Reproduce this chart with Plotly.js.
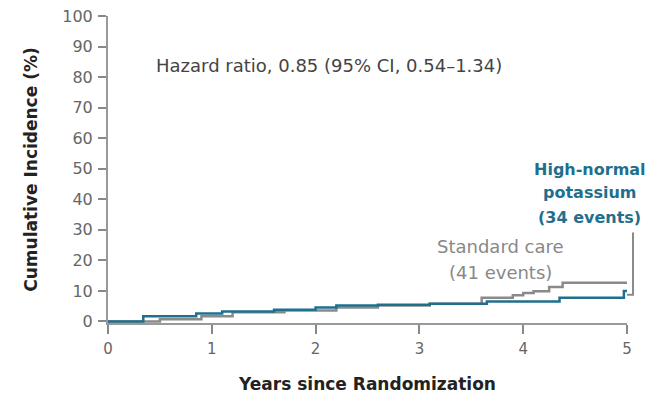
<!DOCTYPE html>
<html>
<head>
<meta charset="utf-8">
<script src="https://cdn.plot.ly/plotly-3.0.1.min.js"></script>
<style>html,body{margin:0;padding:0;background:#fff;}#chart{width:646px;height:397px;}</style>
</head>
<body>
<div id="chart"></div>
<script>
// Standard care (gray) step curve
const stdYears = [0, 0.5, 0.9, 1.2, 1.7, 2.2, 2.6, 3.1, 3.6, 3.9, 4.0, 4.1, 4.25, 4.38, 5.0];
const stdPct   = [0, 0.7, 1.7, 3.0, 3.6, 4.6, 5.2, 5.8, 7.8, 8.6, 9.3, 9.9, 11.3, 12.7, 12.7];
// High-normal potassium (blue) step curve
const hiYears = [0, 0.34, 0.85, 1.1, 1.6, 2.0, 2.2, 2.6, 3.1, 3.65, 4.35, 4.97, 5.0];
const hiPct   = [0, 1.7, 2.6, 3.3, 3.8, 4.6, 5.2, 5.5, 5.8, 6.5, 7.8, 10.0, 10.0];
const xTicks = [0, 1, 2, 3, 4, 5];
const yTicks = [0, 10, 20, 30, 40, 50, 60, 70, 80, 90, 100];
const hrText = 'Hazard ratio, 0.85 (95% CI, 0.54\u20131.34)';
const stdLabel = ['Standard care', '(41 events)'];
const hiLabel = ['High-normal', 'potassium', '(34 events)'];

const gray = '#8a8a8a';
const blue = '#1f6f8e';
const font = 'DejaVu Sans, sans-serif';

const traces = [
  {x: stdYears, y: stdPct, mode: 'lines', line: {shape: 'hv', color: gray, width: 2.5}, name: 'Standard care', hoverinfo: 'skip'},
  {x: hiYears, y: hiPct, mode: 'lines', line: {shape: 'hv', color: blue, width: 2.5}, name: 'High-normal potassium', hoverinfo: 'skip'}
];

const annotations = [
  {xref: 'x', yref: 'y', x: 2.13, y: 83.7, xanchor: 'center', text: hrText, showarrow: false,
   font: {size: 18, color: '#444', family: font}}
];
const stdY = [24.5, 16.0];
stdLabel.forEach((t, i) => annotations.push({xref: 'x', yref: 'y', x: 3.78, y: stdY[i], xanchor: 'center', text: t, showarrow: false,
  font: {size: 18, color: '#888', family: font}}));
const hiY = [49.7, 42.2, 33.9];
hiLabel.forEach((t, i) => annotations.push({xref: 'paper', yref: 'y', x: 0.9287, y: hiY[i], xanchor: 'center', text: '<b>' + t + '</b>', showarrow: false,
  font: {size: 16, color: blue, family: font}}));

const layout = {
  width: 646, height: 397,
  margin: {l: 108, r: 19, t: 16, b: 74},
  paper_bgcolor: '#fff', plot_bgcolor: '#fff',
  showlegend: false,
  font: {family: font, color: '#666', size: 13},
  xaxis: {
    range: [0, 5], tickvals: xTicks, ticktext: xTicks.map(String),
    showgrid: false, zeroline: false, showline: true, linecolor: '#999', linewidth: 2,
    ticks: 'outside', ticklen: 9, tickwidth: 2, tickcolor: '#888', ticklabelstandoff: 2,
    tickfont: {size: 15, color: '#666', family: font},
    title: {text: 'Years since Randomization', font: {size: 17, color: '#222', family: font, weight: 'bold'}, standoff: 21}
  },
  yaxis: {
    range: [-0.5, 100], tickvals: yTicks, ticktext: yTicks.map(String),
    showgrid: false, zeroline: false, showline: true, linecolor: '#999', linewidth: 2,
    ticks: 'outside', ticklen: 8, tickwidth: 2, tickcolor: '#888', ticklabelstandoff: 2,
    tickfont: {size: 16, color: '#666', family: font},
    title: {text: 'Cumulative Incidence (%)', font: {size: 17, color: '#222', family: font, weight: 'bold'}, standoff: 20}
  },
  annotations: annotations,
  shapes: [
    {type: 'path', xref: 'paper', yref: 'paper', path: 'M 1.0116 0.295 L 1.0116 0.092 L 1.0 0.092', line: {color: gray, width: 2}}
  ]
};

Plotly.newPlot('chart', traces, layout, {displayModeBar: false, staticPlot: true});
</script>
</body>
</html>
